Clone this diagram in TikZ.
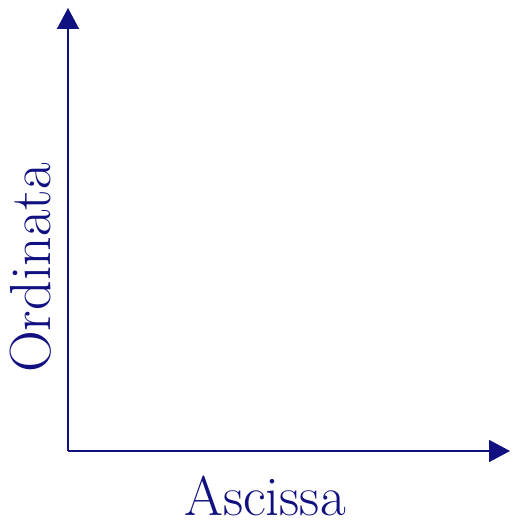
\documentclass[tikz,border=0pt]{standalone}
\usepackage{tikz}
\usetikzlibrary{arrows.meta}
\definecolor{navyaxis}{RGB}{16,16,128}

\begin{document}
\begin{tikzpicture}[x=1pt,y=1pt]
\useasboundingbox (0,0) rectangle (513,527);
\coordinate (O) at (68,76);
\coordinate (xend) at (510,76);
\coordinate (yend) at (68,519);
\draw[navyaxis,line width=1.6pt,-{Triangle[length=21pt,width=22pt]}] (O) -- (xend);
\draw[navyaxis,line width=1.6pt,-{Triangle[length=21pt,width=22pt]}] (O) -- (yend);
\node[navyaxis,anchor=base,inner sep=0pt,font=\fontsize{56}{60}\selectfont] (xlabel) at (265,11) {Ascissa};
\node[navyaxis,anchor=base,rotate=90,inner sep=0pt,font=\fontsize{58}{62}\selectfont] (ylabel) at (50,259) {Ordinata};
\end{tikzpicture}
\end{document}
